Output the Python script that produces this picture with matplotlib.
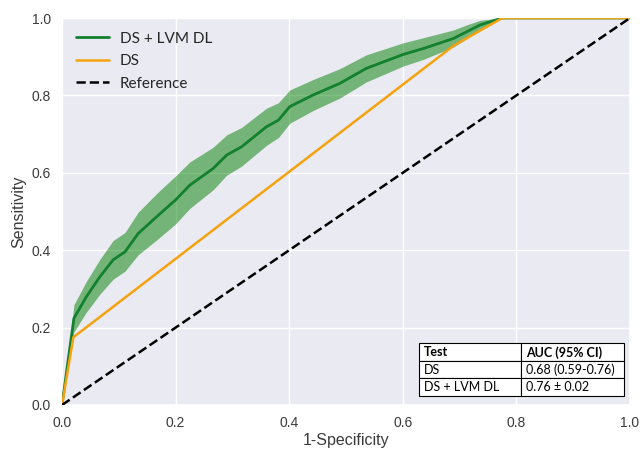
import matplotlib
matplotlib.use("Agg")
import matplotlib.pyplot as plt
import seaborn as sns
import numpy as np

# ---- data ----
fpr_dl = [0.0, 0.021, 0.043, 0.067, 0.09, 0.111, 0.134, 0.167, 0.2, 0.225, 0.266, 0.29,
          0.316, 0.36, 0.381, 0.401, 0.442, 0.489, 0.536, 0.601, 0.636, 0.689, 0.712,
          0.736, 0.775, 1.0]
tpr_dl = [0.0, 0.224, 0.28, 0.332, 0.375, 0.396, 0.443, 0.487, 0.53, 0.568, 0.611, 0.646,
          0.667, 0.719, 0.736, 0.771, 0.801, 0.831, 0.87, 0.906, 0.921, 0.947, 0.964,
          0.982, 1.0, 1.0]
err_dl = [0.0, 0.035, 0.04, 0.045, 0.05, 0.05, 0.055, 0.06, 0.062, 0.06, 0.055, 0.052,
          0.05, 0.048, 0.045, 0.043, 0.04, 0.038, 0.035, 0.03, 0.028, 0.022, 0.018,
          0.012, 0.0, 0.0]
fpr_ds = [0.0, 0.02, 0.689, 0.775, 1.0]
tpr_ds = [0.0, 0.175, 0.928, 1.0, 1.0]
ref = [0.0, 1.0]

labels = ["DS + LVM DL", "DS", "Reference"]
table_rows = [["Test", "AUC (95% CI)"],
              ["DS", "0.68 (0.59-0.76)"],
              ["DS + LVM DL", "0.76 \u00b1 0.02"]]
ticks = [0.0, 0.2, 0.4, 0.6, 0.8, 1.0]

sns.set_theme(style="darkgrid")
plt.rcParams['font.family'] = ['Liberation Sans', 'DejaVu Sans']

fig = plt.figure(figsize=(6.44, 4.5), dpi=100)
ax = fig.add_axes([62/644, 45/450, 568/644, 387/450])

tpr = np.array(tpr_dl); err = np.array(err_dl)
lo = np.clip(tpr - err, 0, 1); hi = np.clip(tpr + err, 0, 1)
ax.fill_between(fpr_dl, lo, hi, color="green", alpha=0.5, linewidth=0, zorder=2)
ax.plot(fpr_dl, tpr_dl, color="#12802f", lw=2.0, label=labels[0], zorder=3)
ax.plot(fpr_ds, tpr_ds, color="#f5a20f", lw=1.8, label=labels[1], zorder=3)
ax.plot(ref, ref, color="black", lw=1.8, ls="--", label=labels[2], zorder=3)

ax.set_xlim(0, 1); ax.set_ylim(0, 1)
ax.set_xticks(ticks); ax.set_yticks(ticks)
ax.set_xticklabels([f"{t:.1f}" for t in ticks])
ax.set_yticklabels([f"{t:.1f}" for t in ticks])
ax.tick_params(labelsize=10, labelcolor="#3a3a3a", pad=2)
ax.set_xlabel("1-Specificity", fontsize=11.5, color="#3a3a3a", labelpad=2)
ax.set_ylabel("Sensitivity", fontsize=11.5, color="#3a3a3a", labelpad=4)

leg = ax.legend(loc="upper left", frameon=False, handlelength=2.2,
                prop={"family": "Lato", "size": 11}, labelspacing=0.55,
                borderaxespad=0.5, handletextpad=0.7)

tbl = ax.table(cellText=table_rows, cellLoc="left",
               colWidths=[0.1796, 0.1819],
               bbox=[0.6285, 0.024, 0.3615, 0.135], zorder=5)
tbl.auto_set_font_size(False)
for (r, c), cell in tbl.get_celld().items():
    cell.set_facecolor("white")
    cell.set_edgecolor("black")
    cell.set_linewidth(0.8)
    cell.PAD = 0.05
    cell.get_text().set_fontsize(9)
    cell.get_text().set_fontfamily("Lato")
    cell.get_text().set_color("black")
    if r == 0:
        cell.get_text().set_fontweight("bold")

fig.savefig("out.png", dpi=100)
